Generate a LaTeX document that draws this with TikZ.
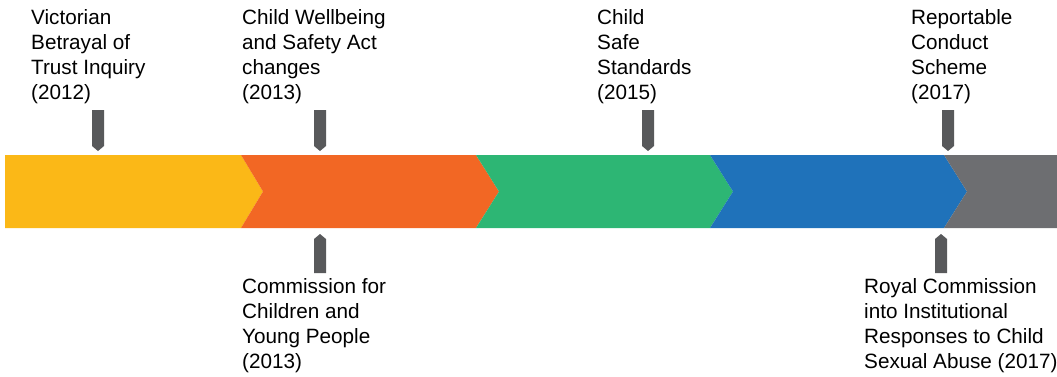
\documentclass[tikz,border=0pt]{standalone}
\usepackage{fontspec}
\setmainfont{Liberation Sans}

\definecolor{tlyellow}{HTML}{FBB817}
\definecolor{tlorange}{HTML}{F26724}
\definecolor{tlgreen}{HTML}{2DB674}
\definecolor{tlblue}{HTML}{1F72BA}
\definecolor{tlgray}{HTML}{6D6E71}
\definecolor{pingray}{HTML}{58595B}

\tikzset{
  eventtext/.style={anchor=north west, inner sep=0pt, align=left, font=\fontsize{20.7}{25}\selectfont},
  pin/.style={fill=pingray}
}

\begin{document}
\begin{tikzpicture}[x=1pt,y=-1pt]
\useasboundingbox (0,0) rectangle (1057,376);

% timeline bar
\fill[tlyellow] (5,155) -- (241,155) -- (263,191.5) -- (241,228) -- (5,228) -- cycle;
\fill[tlorange] (241,155) -- (476,155) -- (499,191.5) -- (476,228) -- (241,228) -- (263,191.5) -- cycle;
\fill[tlgreen] (476,155) -- (710,155) -- (733,191.5) -- (710,228) -- (476,228) -- (499,191.5) -- cycle;
\fill[tlblue] (710,155) -- (944,155) -- (967,191.5) -- (944,228) -- (710,228) -- (733,191.5) -- cycle;
\fill[tlgray] (944,155) -- (1057,155) -- (1057,228) -- (944,228) -- (967,191.5) -- cycle;

% pointers above
\fill[pin] (92,110) -- (104,110) -- (104,146) -- (98,151) -- (92,146) -- cycle;
\fill[pin] (314,110) -- (326,110) -- (326,146) -- (320,151) -- (314,146) -- cycle;
\fill[pin] (642,110) -- (654,110) -- (654,146) -- (648,151) -- (642,146) -- cycle;
\fill[pin] (942,110) -- (954,110) -- (954,146) -- (948,151) -- (942,146) -- cycle;

% pointers below
\fill[pin] (314,273) -- (326,273) -- (326,239) -- (320,234) -- (314,239) -- cycle;
\fill[pin] (935,273) -- (947,273) -- (947,239) -- (941,234) -- (935,239) -- cycle;

\node[eventtext] (Inquiry) at (31,9.2) {Victorian\\Betrayal of\\Trust Inquiry\\(2012)};
\node[eventtext] (SafetyAct) at (242,9.2) {Child Wellbeing\\and Safety Act\\changes\\(2013)};
\node[eventtext] (SafeStd) at (597,9.2) {Child\\Safe\\Standards\\(2015)};
\node[eventtext] (Reportable) at (911,9.2) {Reportable\\Conduct\\Scheme\\(2017)};

\node[eventtext] (Commission) at (242,278.2) {Commission for\\Children and\\Young People\\(2013)};
\node[eventtext] (RoyalComm) at (864,278.2) {Royal Commission\\into Institutional\\Responses to Child\\Sexual Abuse (2017)};

\end{tikzpicture}
\end{document}
